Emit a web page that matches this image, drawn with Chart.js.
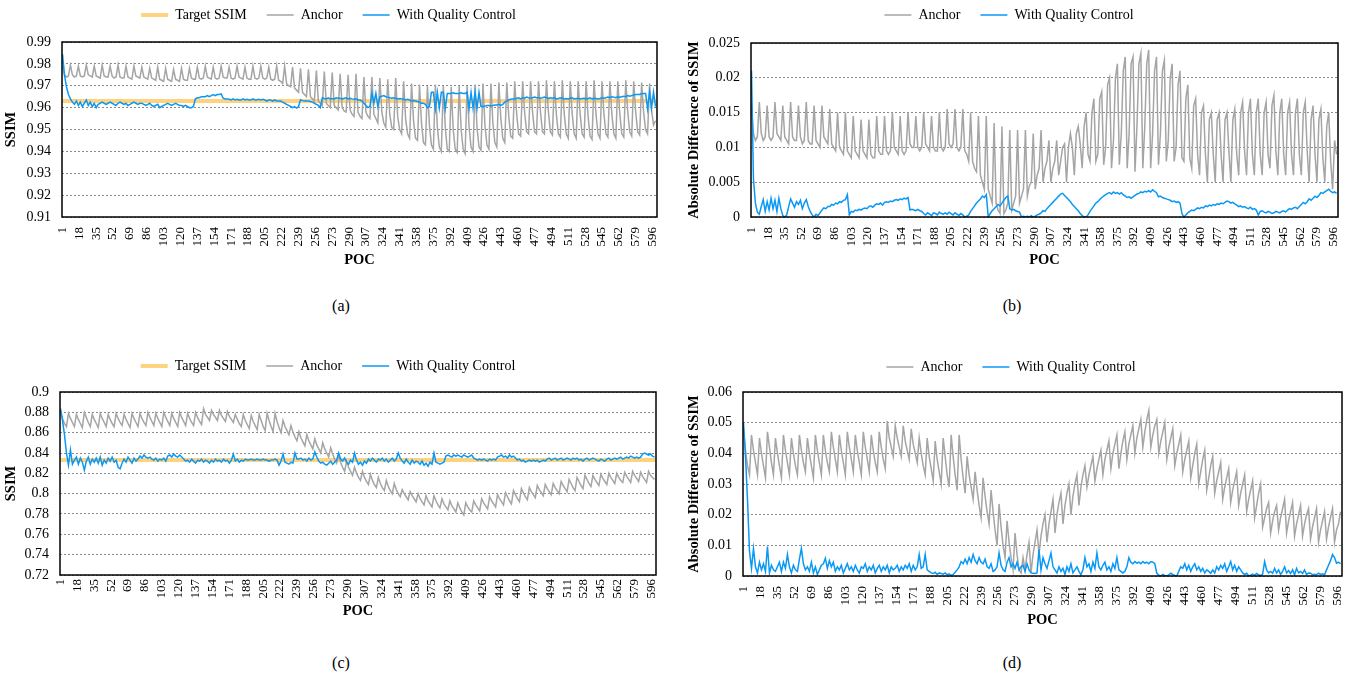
<!DOCTYPE html>
<html><head><meta charset="utf-8">
<script src="https://cdn.jsdelivr.net/npm/chart.js@4/dist/chart.umd.min.js"></script>
<style>
html,body{margin:0;padding:0;background:#fff;width:1368px;height:678px;overflow:hidden;position:relative;font-family:'Liberation Serif','Times New Roman',serif}
.panel{position:absolute}
.cap{position:absolute;font-size:16px;color:#000;transform:translate(-50%,-50%);white-space:nowrap}
</style></head><body>
<div class="panel" style="left:0px;top:-12px"><canvas id="ca" width="660" height="290" style="width:660px;height:290px"></canvas></div>
<div class="panel" style="left:680px;top:-12px"><canvas id="cb" width="666" height="290" style="width:666px;height:290px"></canvas></div>
<div class="panel" style="left:0px;top:339px"><canvas id="cc" width="660" height="292" style="width:660px;height:292px"></canvas></div>
<div class="panel" style="left:680px;top:340px"><canvas id="cd" width="670" height="300" style="width:670px;height:300px"></canvas></div>
<div class="cap" style="left:341px;top:306px">(a)</div>
<div class="cap" style="left:1012px;top:306px">(b)</div>
<div class="cap" style="left:341px;top:663px">(c)</div>
<div class="cap" style="left:1012px;top:663px">(d)</div>
<script>
// POC numbers of the sampled frames (every second frame, 1..599)
const poc = Array.from({length: 300}, (_, i) => 1 + 2 * i);
const targetPoc = [1, 600];
const xTickLabels = [1,18,35,52,69,86,103,120,137,154,171,188,205,222,239,256,273,290,307,324,341,358,375,392,409,426,443,460,477,494,511,528,545,562,579,596];

// (a) SSIM
const aTarget = [0.963, 0.963];
const aAnchor = [
.979,.975,.974,.9745,.9795,.975,.974,.9745,.979,.9745,.974,.9745,.9795,.975,.9745,.974,.979,.9745,.974,.9735,
.9795,.9745,.974,.974,.979,.9745,.9735,.974,.9795,.974,.9735,.9735,.979,.974,.9735,.973,.979,.9745,.974,.9735,
.9785,.974,.9735,.973,.978,.9735,.973,.9725,.9785,.973,.9725,.972,.978,.973,.9725,.972,.9775,.973,.9725,.972,
.978,.973,.9725,.9725,.978,.9735,.973,.973,.9785,.9735,.973,.9735,.979,.974,.9735,.973,.9785,.9735,.973,.9735,
.979,.974,.9735,.9735,.9785,.9735,.973,.9735,.979,.974,.9735,.973,.9785,.9735,.973,.973,.979,.9735,.973,.9735,
.979,.9735,.973,.9735,.9785,.973,.9725,.973,.979,.9725,.972,.971,.979,.971,.970,.9695,.9785,.969,.968,.967,
.978,.967,.966,.965,.9775,.965,.964,.963,.977,.963,.962,.961,.9765,.962,.961,.960,.976,.961,.960,.959,
.9755,.960,.9585,.958,.975,.959,.957,.956,.9755,.958,.956,.955,.974,.958,.956,.955,.974,.957,.955,.953,
.9735,.958,.953,.951,.973,.957,.951,.950,.9735,.956,.950,.948,.972,.955,.948,.946,.971,.954,.946,.945,
.9705,.953,.944,.943,.970,.952,.943,.941,.9705,.951,.942,.940,.970,.951,.941,.940,.9695,.950,.941,.9395,
.970,.950,.941,.939,.970,.951,.942,.940,.9705,.951,.942,.9405,.971,.952,.943,.941,.971,.953,.944,.942,
.9715,.955,.946,.944,.9715,.956,.947,.946,.972,.957,.948,.947,.972,.958,.949,.948,.972,.958,.949,.948,
.972,.958,.949,.948,.9725,.958,.949,.9475,.972,.957,.948,.9465,.9725,.957,.948,.946,.972,.957,.948,.946,
.972,.957,.948,.9465,.972,.956,.947,.9455,.9725,.957,.948,.946,.972,.957,.948,.9465,.972,.957,.948,.946,
.972,.957,.948,.9465,.9725,.958,.949,.947,.972,.958,.949,.9475,.9715,.958,.950,.948,.971,.959,.952,.954];
const aQC = [
.9845,.975,.9695,.966,.964,.9625,.9615,.963,.961,.9625,.9605,.962,.9635,.961,.9625,.9605,.962,.960,.9615,.962,
.9625,.962,.9615,.962,.9625,.962,.9615,.961,.962,.9625,.962,.9615,.962,.961,.9615,.962,.9625,.962,.9615,.962,
.962,.9615,.961,.9615,.962,.961,.9605,.961,.9615,.960,.9605,.961,.9615,.962,.9615,.961,.9615,.962,.9615,.961,
.961,.9605,.961,.9605,.960,.960,.9605,.964,.9645,.9645,.965,.965,.965,.9655,.965,.9655,.966,.9655,.966,.966,
.9663,.9643,.964,.964,.9638,.9635,.964,.9635,.9638,.9635,.9635,.964,.9635,.9638,.9635,.9635,.964,.9635,.9635,.9638,
.9635,.9638,.9635,.963,.9635,.9635,.963,.9635,.963,.963,.963,.9625,.962,.9615,.961,.9605,.960,.9605,.9598,.9605,
.9636,.9632,.963,.963,.963,.9628,.9625,.962,.9615,.961,.960,.9645,.9642,.964,.9645,.964,.9642,.964,.9645,.9643,
.9643,.964,.9643,.9645,.964,.9643,.964,.9638,.964,.9635,.9635,.963,.962,.961,.960,.9605,.9666,.962,.9665,.9605,
.965,.9652,.9655,.965,.9648,.9645,.9643,.9645,.9643,.964,.9642,.964,.9638,.9635,.9638,.9635,.963,.9632,.963,.9628,
.9625,.962,.962,.9615,.960,.9605,.967,.967,.9595,.967,.9598,.967,.967,.9595,.9665,.9665,.9665,.9668,.9665,.9665,
.9665,.9668,.9665,.9665,.967,.9595,.967,.9598,.967,.9597,.967,.9605,.9605,.9607,.961,.961,.9608,.961,.9612,.9612,
.9615,.961,.9615,.9625,.963,.9635,.9638,.964,.964,.9643,.9645,.964,.9645,.9643,.9648,.9645,.9643,.9645,.9648,.9645,
.9645,.9643,.9645,.9648,.9645,.9642,.9645,.9643,.9645,.964,.9642,.9645,.9643,.964,.9642,.964,.9643,.9645,.964,.9642,
.9642,.964,.9642,.9643,.964,.9642,.9645,.964,.9643,.9642,.964,.9642,.9645,.9643,.9645,.9648,.9645,.965,.9648,.9645,
.965,.9648,.965,.9652,.965,.9655,.9652,.9655,.9658,.966,.966,.966,.9663,.9665,.9665,.9595,.967,.9598,.967,.9605];

// (b) Absolute difference of SSIM
const bAnchor = [
.016,.012,.011,.0115,.0165,.012,.011,.0115,.016,.0115,.011,.0115,.0165,.012,.0115,.011,.016,.0115,.011,.0105,
.0165,.0115,.011,.011,.016,.0115,.0105,.011,.0165,.011,.0105,.0105,.016,.011,.0105,.010,.016,.0115,.011,.0105,
.0155,.0105,.010,.0095,.015,.010,.0095,.009,.015,.0095,.009,.0085,.0145,.0095,.009,.0085,.014,.0095,.009,.0085,
.014,.009,.0085,.0085,.0145,.0095,.009,.009,.0145,.0095,.009,.0095,.015,.010,.0095,.009,.0145,.0095,.009,.0095,
.015,.0105,.010,.010,.0145,.010,.0095,.010,.015,.0105,.010,.0095,.0145,.010,.0095,.0095,.015,.010,.0095,.010,
.0155,.0105,.010,.0105,.0155,.010,.0095,.010,.0155,.0095,.009,.008,.015,.008,.007,.0065,.0145,.006,.005,.004,
.0145,.004,.003,.002,.0135,.002,.001,.0005,.013,.0005,.001,.002,.0125,.001,.002,.003,.0125,.002,.003,.004,
.0125,.003,.0045,.005,.012,.004,.006,.007,.0125,.005,.007,.008,.011,.005,.007,.008,.011,.006,.008,.010,
.0105,.005,.010,.012,.010,.006,.012,.013,.0105,.007,.013,.015,.009,.008,.015,.017,.008,.009,.017,.018,
.0075,.010,.019,.020,.007,.011,.020,.022,.0075,.012,.021,.023,.007,.012,.022,.023,.0065,.013,.022,.0235,
.007,.013,.022,.024,.007,.012,.021,.023,.0075,.012,.021,.0225,.008,.011,.020,.022,.008,.010,.019,.021,
.0085,.008,.017,.019,.0085,.007,.016,.017,.009,.006,.015,.016,.009,.005,.014,.015,.009,.005,.014,.015,
.009,.005,.014,.015,.0095,.005,.014,.0155,.009,.006,.015,.0165,.0095,.006,.015,.017,.009,.006,.015,.017,
.009,.006,.015,.0165,.009,.007,.016,.0175,.0095,.006,.015,.017,.009,.006,.015,.0165,.009,.006,.015,.017,
.009,.006,.015,.0165,.0095,.005,.014,.016,.009,.005,.014,.0155,.0085,.005,.013,.015,.008,.004,.011,.009];
const bQC = [
.021,.0055,.002,.0007,.0004,.0015,.0025,.0008,.0022,.001,.0027,.0012,.0024,.0008,.0027,.0012,.0002,0,.0003,.0015,
.0026,.002,.0014,.0022,.0018,.0024,.0012,.002,.0025,.0015,.0008,.0003,0,.0004,.0002,.0006,.001,.0013,.0012,.0015,
.0015,.0018,.0017,.002,.0019,.0022,.0021,.0024,.0025,.0032,.0003,.0008,.0007,.001,.0009,.0011,.001,.0012,.0013,.0012,
.0015,.0016,.0014,.0017,.0019,.0018,.002,.0017,.0021,.0022,.0021,.0023,.0022,.0024,.0025,.0024,.0026,.0025,.0027,.0026,
.0028,.001,.0011,.001,.0009,.0011,.0009,.0008,.0005,.0003,.0006,.0004,.0002,.0006,.0005,.0003,.0007,.0005,.0004,.0006,
.0004,.0007,.0005,.0003,.0006,.0004,.0002,.0005,.0003,0,.0001,.0003,.0008,.0012,.0016,.002,.0023,.0026,.003,.0028,
.0032,0,.0005,.0009,.0012,.0015,.0018,.0016,.002,.0024,.0028,.003,.0012,.001,.0011,.0009,.0008,.0007,0,.0001,
0,.0001,0,.0002,0,.0001,.0003,.0004,.0006,.0009,.0008,.0012,.0015,.0018,.0021,.0024,.0027,.003,.0033,.0034,
.0031,.0028,.0025,.0022,.0018,.0015,.0012,.0009,.0005,.0002,0,0,.0003,.0008,.0012,.0016,.002,.0022,.0025,.0028,
.003,.0032,.0034,.0035,.0033,.0036,.0034,.0035,.0033,.0035,.0032,.003,.0028,.0029,.0027,.0029,.0031,.0033,.0034,.0036,
.0035,.0037,.0036,.0038,.0036,.0039,.0037,.0035,.0029,.003,.0028,.0027,.0026,.0025,.0024,.0022,.0023,.0021,.0022,.002,
.0005,0,.0003,.0006,.0008,.001,.0009,.0011,.0013,.0012,.0014,.0013,.0016,.0015,.0017,.0016,.0018,.0017,.0019,.0018,
.002,.0019,.0021,.0023,.0022,.002,.0021,.0019,.0017,.0015,.0016,.0014,.0015,.0013,.0012,.0014,.0011,.0012,.001,.0003,
.0008,.0009,.0007,.0006,.0008,.0007,.0005,.0006,.0008,.0007,.0006,.0008,.0009,.0007,.001,.0012,.0011,.0013,.0014,.0012,
.0015,.0018,.0021,.0019,.0022,.0026,.0024,.0027,.003,.0028,.0031,.0035,.0034,.0036,.0038,.004,.0037,.0035,.0036,.0034];

// (c) SSIM
const cTarget = [0.833, 0.833];
const cAnchor = [
.881,.874,.869,.866,.879,.874,.870,.866,.878,.873,.869,.865,.880,.875,.870,.866,.878,.873,.869,.865,
.879,.874,.870,.866,.878,.873,.869,.866,.879,.874,.870,.867,.878,.873,.869,.865,.879,.874,.870,.866,
.879,.874,.870,.867,.880,.875,.871,.867,.879,.874,.870,.866,.880,.875,.871,.867,.879,.874,.870,.866,
.880,.875,.871,.867,.879,.874,.870,.867,.880,.875,.871,.868,.8835,.878,.875,.872,.882,.878,.875,.872,
.882,.877,.874,.871,.881,.876,.873,.870,.878,.873,.869,.866,.878,.872,.868,.864,.877,.871,.867,.863,
.878,.872,.866,.862,.879,.872,.866,.861,.879,.871,.865,.860,.872,.866,.862,.858,.867,.861,.856,.852,
.861,.855,.851,.847,.858,.852,.848,.844,.854,.848,.844,.840,.850,.844,.840,.836,.845,.839,.834,.830,
.838,.831,.826,.822,.832,.826,.822,.818,.826,.820,.816,.813,.822,.816,.812,.809,.819,.813,.809,.806,
.816,.810,.806,.803,.813,.807,.803,.800,.810,.804,.800,.797,.804,.800,.797,.794,.802,.798,.795,.792,
.800,.795,.792,.789,.798,.793,.790,.787,.798,.793,.789,.786,.795,.790,.787,.784,.793,.788,.785,.782,
.791,.786,.782,.779,.791,.787,.784,.782,.793,.789,.786,.783,.795,.791,.788,.785,.797,.793,.790,.787,
.799,.795,.792,.789,.801,.797,.793,.790,.803,.799,.795,.792,.805,.801,.797,.794,.806,.802,.799,.796,
.808,.804,.801,.798,.809,.805,.802,.799,.810,.806,.803,.800,.812,.808,.805,.802,.814,.810,.806,.803,
.816,.812,.808,.805,.818,.814,.810,.807,.818,.814,.811,.808,.819,.815,.812,.809,.820,.816,.813,.810,
.820,.816,.813,.811,.821,.817,.814,.811,.822,.818,.815,.812,.821,.817,.814,.811,.822,.818,.816,.814];
const cQC = [
.8837,.872,.858,.840,.828,.843,.829,.833,.836,.829,.835,.831,.823,.832,.836,.829,.834,.831,.835,.830,
.836,.828,.833,.830,.835,.832,.836,.831,.833,.826,.8245,.830,.834,.831,.836,.833,.830,.835,.832,.834,
.837,.835,.838,.836,.835,.836,.834,.833,.835,.832,.834,.833,.835,.832,.837,.838,.836,.839,.837,.836,
.838,.836,.834,.832,.833,.831,.834,.832,.830,.833,.832,.834,.831,.833,.832,.830,.833,.831,.834,.832,
.833,.831,.834,.832,.833,.830,.833,.839,.832,.834,.831,.833,.832,.834,.833,.833,.834,.833,.833,.834,
.833,.833,.834,.833,.833,.832,.833,.833,.834,.833,.828,.832,.839,.831,.830,.829,.831,.830,.840,.834,
.834,.835,.833,.834,.832,.835,.833,.834,.841,.836,.832,.830,.831,.829,.828,.830,.832,.829,.831,.833,
.840,.834,.832,.835,.831,.829,.833,.831,.840,.833,.829,.831,.828,.832,.830,.834,.832,.835,.833,.831,
.834,.833,.835,.832,.834,.831,.833,.835,.832,.834,.840,.835,.832,.830,.834,.831,.829,.833,.830,.832,
.831,.829,.832,.828,.830,.827,.831,.829,.840,.831,.830,.829,.830,.831,.837,.838,.837,.836,.838,.837,
.838,.837,.836,.838,.837,.836,.837,.838,.835,.834,.833,.834,.833,.834,.833,.832,.834,.833,.834,.833,
.836,.837,.838,.836,.837,.835,.838,.836,.837,.835,.833,.834,.832,.833,.831,.832,.833,.832,.833,.832,
.833,.831,.832,.833,.832,.834,.835,.833,.834,.835,.833,.834,.835,.833,.834,.835,.834,.833,.835,.834,
.835,.833,.834,.832,.834,.835,.833,.834,.835,.834,.833,.832,.834,.833,.832,.834,.835,.833,.834,.835,
.834,.835,.836,.834,.835,.836,.835,.837,.836,.835,.836,.835,.836,.839,.840,.839,.838,.839,.837,.836];

// (d) Absolute difference of SSIM
const dAnchor = [
.048,.041,.036,.033,.046,.041,.037,.033,.045,.040,.036,.032,.047,.042,.037,.033,.045,.040,.036,.032,
.046,.041,.037,.033,.045,.040,.036,.033,.046,.041,.037,.034,.045,.040,.036,.032,.046,.041,.037,.033,
.046,.041,.037,.034,.047,.042,.038,.034,.046,.041,.037,.033,.047,.042,.038,.034,.046,.041,.037,.033,
.047,.042,.038,.034,.046,.041,.037,.034,.047,.042,.038,.035,.0505,.045,.042,.039,.049,.045,.042,.039,
.049,.044,.041,.038,.048,.043,.040,.037,.045,.040,.036,.033,.045,.039,.035,.031,.044,.038,.034,.030,
.045,.039,.033,.029,.046,.039,.033,.028,.046,.038,.032,.027,.039,.033,.029,.025,.034,.028,.023,.019,
.032,.026,.021,.017,.028,.021,.015,.010,.0235,.016,.010,.006,.018,.011,.006,.002,.014,.007,.002,.001,
.006,.002,.007,.011,.001,.007,.011,.015,.007,.013,.017,.020,.011,.017,.021,.025,.014,.020,.024,.027,
.017,.023,.027,.030,.020,.026,.030,.033,.023,.029,.033,.036,.029,.033,.036,.039,.031,.035,.038,.041,
.033,.038,.041,.044,.035,.040,.043,.046,.035,.040,.044,.047,.038,.043,.046,.049,.040,.045,.048,.051,
.042,.047,.051,.054,.042,.046,.049,.051,.040,.044,.047,.050,.038,.042,.045,.048,.036,.040,.043,.046,
.034,.038,.041,.044,.032,.036,.040,.043,.030,.034,.038,.041,.028,.032,.036,.039,.027,.031,.034,.037,
.025,.029,.032,.035,.024,.028,.031,.034,.023,.027,.030,.033,.021,.025,.028,.031,.019,.023,.027,.030,
.016,.019,.022,.024,.014,.018,.021,.023,.015,.019,.022,.025,.014,.018,.021,.024,.013,.017,.020,.023,
.013,.017,.020,.022,.012,.016,.019,.022,.011,.015,.018,.021,.012,.016,.019,.022,.011,.015,.017,.021];
const dQC = [
.050,.039,.025,.008,.0025,.009,.003,.001,.0045,.002,.004,.0015,.0096,.001,.0035,.002,.0015,.003,.0045,.0015,
.0045,.0025,.007,.003,.001,.0035,.002,.0015,.0055,.009,.004,.002,.003,.0015,.0045,.001,.003,.0005,.002,.0035,
.004,.0058,.0025,.005,.003,.0045,.0015,.003,.002,.0035,.001,.0025,.004,.002,.003,.0015,.0035,.002,.001,.003,
.0025,.004,.0015,.003,.002,.0035,.001,.0025,.0035,.0015,.003,.002,.0035,.001,.003,.002,.0025,.0035,.0015,.003,
.002,.0035,.0025,.004,.0015,.0035,.002,.003,.007,.0025,.003,.007,.002,.0015,.001,.0008,.0012,.0005,.001,.0008,
.0006,.001,.0004,.0007,.0002,.0005,.0012,.002,.003,.0047,.004,.0055,.004,.006,.0045,.007,.005,.004,.006,.0045,
.004,.0055,.003,.0025,.004,.0015,.002,.003,.0075,.0035,.002,.0015,.0045,.006,.003,.004,.0025,.0045,.002,.003,
.0035,.0015,.004,.002,.001,.0009,.0008,.001,.0086,.002,.006,.004,.0025,.005,.0075,.003,.002,.001,.003,.0015,
.0025,.0005,.003,.0015,.004,.001,.002,.003,.0015,.0004,.002,.006,.003,.004,.0015,.0045,.0025,.0075,.003,.002,
.0035,.0045,.002,.003,.0015,.004,.0025,.006,.002,.0015,.001,.0015,.003,.006,.0045,.004,.0047,.0042,.0045,.004,
.0047,.0042,.0045,.004,.0047,.0045,.004,.0009,.0003,0,.0005,.0002,0,.0004,.0009,.0005,.0002,0,.0015,.003,
.0025,.004,.002,.0035,.0015,.003,.004,.002,.003,.0015,.0025,.001,.002,.0015,.0009,.002,.001,.003,.002,.0035,
.0025,.004,.0015,.003,.0047,.002,.0035,.0015,.003,.002,.001,.0005,.0009,0,.0003,.0006,.0002,.0008,.0004,.0001,
.0006,.0047,.002,.001,.0015,.0009,.0025,.001,.002,.0005,.0015,.003,.001,.0018,.0008,.002,.0004,.0025,.001,.0015,
.0008,.002,.0005,.001,.0009,.0004,.0006,.0004,.0009,.0005,.0007,.0004,.002,.0035,.005,.007,.006,.0042,.0045,.004];

Chart.defaults.font.family = "'Liberation Serif','Times New Roman',serif";
Chart.defaults.color = '#000';

const legendBox = {
  id: 'legendBox',
  beforeLayout(chart, args, opts) {
    const lg = chart.legend;
    if (lg && !lg._patched) {
      const f = lg.fit;
      lg.fit = function () { f.call(this); this.height = opts.height; };
      lg._patched = true;
    }
  }
};
const frame = {
  id: 'frame',
  afterDatasetsDraw(chart) {
    const {ctx, chartArea: a} = chart;
    ctx.save();
    ctx.strokeStyle = '#000';
    ctx.lineWidth = 1.5;
    ctx.strokeRect(a.left, a.top, a.right - a.left, a.bottom - a.top);
    ctx.restore();
  }
};

const COLORS = {target: '#FFD27F', anchor: '#A5A5A5', qc: '#0A98F5'};

function makeChart(id, p) {
  const datasets = [];
  if (p.target) {
    datasets.push({label: 'Target SSIM', data: targetPoc.map((x, i) => ({x, y: p.target[i]})),
      borderColor: COLORS.target, backgroundColor: COLORS.target, borderWidth: 4, order: 2});
  }
  datasets.push({label: 'Anchor', data: poc.map((x, i) => ({x, y: p.anchor[i]})),
    borderColor: COLORS.anchor, backgroundColor: COLORS.anchor, borderWidth: 1.5, order: 1});
  datasets.push({label: 'With Quality Control', data: poc.map((x, i) => ({x, y: p.qc[i]})),
    borderColor: COLORS.qc, backgroundColor: COLORS.qc, borderWidth: 1.5, order: 0});

  return new Chart(document.getElementById(id), {
    type: 'line',
    data: {datasets},
    options: {
      responsive: false, animation: false, devicePixelRatio: 1,
      layout: {padding: {left: 0, right: p.padR, top: 0, bottom: 0}},
      elements: {point: {radius: 0}, line: {tension: 0}},
      plugins: {
        legend: {position: 'top', align: 'center',
          labels: {usePointStyle: true, pointStyle: 'line', pointStyleWidth: 27, padding: 20,
            color: '#000', font: {size: 14}, sort: (a, b) => a.datasetIndex - b.datasetIndex}},
        tooltip: {enabled: false},
        legendBox: {height: p.legendH}
      },
      scales: {
        x: {type: 'linear', min: 0.5, max: 600.5,
          grid: {display: false, drawTicks: false}, border: {display: false},
          ticks: {autoSkip: false, maxRotation: 90, minRotation: 90, padding: p.xTickPad,
            color: '#000', font: {size: 13}, callback: v => String(v)},
          afterBuildTicks: s => { s.ticks = xTickLabels.map(v => ({value: v})); },
          afterFit: s => { s.height = p.xH; s.paddingLeft = 0; s.paddingRight = 0; },
          title: {display: true, text: 'POC', color: '#000', font: {size: 14.5, weight: 'bold'},
            padding: {top: 0, bottom: p.xTitlePadB}}},
        y: {min: p.min, max: p.max,
          grid: {color: '#8a8a8a', lineWidth: 1, drawTicks: false},
          border: {display: false, dash: [2, 2]},
          ticks: {stepSize: p.step, padding: 11, color: '#000', font: {size: 14},
            callback: v => String(+(+v).toFixed(4))},
          afterFit: s => { s.width = p.yW; s.paddingTop = 0; s.paddingBottom = 0; },
          title: {display: true, text: p.yTitle, color: '#000', font: {size: 14.5, weight: 'bold'},
            padding: {top: p.yTitlePadT, bottom: 0}}}
      }
    },
    plugins: [legendBox, frame]
  });
}

makeChart('ca', {target: aTarget, anchor: aAnchor, qc: aQC, min: 0.91, max: 0.99, step: 0.01,
  yTitle: 'SSIM', legendH: 54, yW: 62, xH: 61, padR: 3, xTickPad: 10, xTitlePadB: 9, yTitlePadT: 3});
makeChart('cb', {anchor: bAnchor, qc: bQC, min: 0, max: 0.025, step: 0.005,
  yTitle: 'Absolute Difference of SSIM', legendH: 55, yW: 71, xH: 61, padR: 8, xTickPad: 10, xTitlePadB: 9, yTitlePadT: 6});
makeChart('cc', {target: cTarget, anchor: cAnchor, qc: cQC, min: 0.72, max: 0.9, step: 0.02,
  yTitle: 'SSIM', legendH: 53, yW: 60, xH: 56, padR: 4, xTickPad: 4, xTitlePadB: 11, yTitlePadT: 3});
makeChart('cd', {anchor: dAnchor, qc: dQC, min: 0, max: 0.06, step: 0.01,
  yTitle: 'Absolute Difference of SSIM', legendH: 52, yW: 63, xH: 64, padR: 8, xTickPad: 10, xTitlePadB: 11, yTitlePadT: 6});
</script>
</body></html>
